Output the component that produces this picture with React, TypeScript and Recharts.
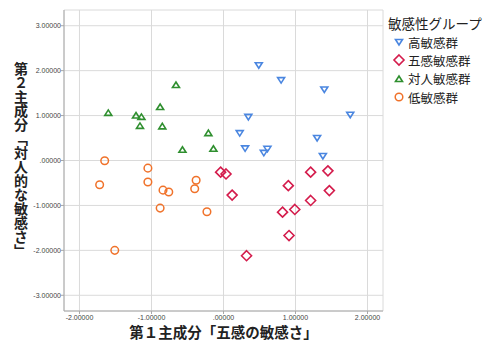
import React from 'react';
import { ScatterChart, Scatter, XAxis, YAxis, CartesianGrid, Label } from 'recharts';

// group names
const groupNames = ['高敏感群', '五感敏感群', '対人敏感群', '低敏感群'];

// 高敏感群
const highX = [0.49, 0.8, 1.4, 1.76, 0.345, 0.225, 1.3, 0.3, 0.61, 0.56, 1.38];
const highY = [2.12, 1.79, 1.58, 1.02, 0.97, 0.61, 0.5, 0.27, 0.26, 0.17, 0.1];

// 五感敏感群
const senseX = [-0.04, 0.035, 0.12, 0.32, 0.9, 0.82, 0.99, 0.91, 1.21, 1.45, 1.21, 1.47];
const senseY = [-0.26, -0.3, -0.77, -2.12, -0.56, -1.15, -1.09, -1.67, -0.26, -0.23, -0.89, -0.67];

// 対人敏感群
const socialX = [-1.6, -1.215, -1.14, -1.16, -0.88, -0.85, -0.66, -0.57, -0.21, -0.14];
const socialY = [1.06, 1.0, 0.97, 0.77, 1.19, 0.76, 1.68, 0.24, 0.61, 0.26];

// 低敏感群
const lowX = [-1.65, -1.72, -1.05, -1.05, -0.84, -0.76, -0.88, -0.38, -0.4, -0.23, -1.51];
const lowY = [-0.005, -0.54, -0.17, -0.48, -0.66, -0.7, -1.06, -0.44, -0.63, -1.14, -2.0];

const xTicks = [-2, -1, 0, 1, 2];
const yTicks = [-3, -2, -1, 0, 1, 2, 3];

const colors = ['#4a86e0', '#d41c4c', '#2f8f2f', '#f0722a'];

const zip = (xs: number[], ys: number[]) => xs.map((x, i) => ({ x, y: ys[i] }));

const fmt = (v: number) => (v === 0 ? '.00000' : v.toFixed(5));

const Marker = ({ kind, cx, cy }: { kind: number; cx: number; cy: number }) => {
  const c = colors[kind];
  if (kind === 0) {
    return <path d={`M${cx - 3.5},${cy - 2.5} L${cx + 3.5},${cy - 2.5} L${cx},${cy + 3} Z`} fill="none" stroke={c} strokeWidth={1.6} />;
  }
  if (kind === 1) {
    return <path d={`M${cx},${cy - 5} L${cx + 5},${cy} L${cx},${cy + 5} L${cx - 5},${cy} Z`} fill="none" stroke={c} strokeWidth={1.6} />;
  }
  if (kind === 2) {
    return <path d={`M${cx - 3.5},${cy + 2.5} L${cx + 3.5},${cy + 2.5} L${cx},${cy - 3} Z`} fill="none" stroke={c} strokeWidth={1.6} />;
  }
  return <circle cx={cx} cy={cy} r={3.8} fill="none" stroke={c} strokeWidth={1.5} />;
};

const jp = '"Noto Sans CJK JP", "Noto Sans", sans-serif';

export default function App() {
  const series = [zip(highX, highY), zip(senseX, senseY), zip(socialX, socialY), zip(lowX, lowY)];

  return (
    <div style={{ position: 'absolute', left: 0, top: 0, width: 483, height: 342, background: '#fff' }}>
      <ScatterChart width={483} height={342} margin={{ top: 10, right: 100, left: 0, bottom: 0 }}>
        <CartesianGrid stroke="#dadada" strokeWidth={1} />
        <XAxis
          type="number"
          dataKey="x"
          domain={[-2.215, 2.215]}
          ticks={xTicks}
          tickFormatter={fmt}
          height={31}
          tickSize={3}
          tickMargin={1}
          stroke="#a8a8a8"
          tick={{ fontSize: 7, fill: '#444', fontFamily: '"Liberation Sans", Arial, sans-serif' }}
        >
          <Label
            position="insideBottom"
            offset={4}
            value="第１主成分「五感の敏感さ」"
            style={{ fontSize: 14.5, fontWeight: 700, fill: '#222', fontFamily: jp }}
          />
        </XAxis>
        <YAxis
          type="number"
          dataKey="y"
          domain={[-3.35, 3.35]}
          ticks={yTicks}
          tickFormatter={fmt}
          width={64}
          tickSize={3}
          tickMargin={0}
          stroke="#a8a8a8"
          tick={{ fontSize: 7, fill: '#444', fontFamily: '"Liberation Sans", Arial, sans-serif' }}
        >
          <Label
            content={() => (
              <text
                x={21}
                y={160}
                textAnchor="middle"
                style={{ writingMode: 'vertical-rl', fontSize: 14, fontWeight: 700, fill: '#222', fontFamily: jp }}
              >
                第２主成分「対人的な敏感さ」
              </text>
            )}
          />
        </YAxis>
        {series.map((d, k) => (
          <Scatter
            key={groupNames[k]}
            name={groupNames[k]}
            data={d}
            isAnimationActive={false}
            shape={(p: any) => <Marker kind={k} cx={p.cx} cy={p.cy} />}
          />
        ))}
      </ScatterChart>
      <div style={{ position: 'absolute', left: 388, top: 13, fontFamily: jp, color: '#222' }}>
        <div style={{ fontSize: 13.5, lineHeight: '20px', whiteSpace: 'nowrap' }}>敏感性グループ</div>
        {groupNames.map((g, k) => (
          <div key={g} style={{ display: 'flex', alignItems: 'center', height: 18.3, fontSize: 12.5, whiteSpace: 'nowrap' }}>
            <svg width={18} height={14} style={{ marginLeft: 2 }}>
              <Marker kind={k} cx={9} cy={7} />
            </svg>
            <span>{g}</span>
          </div>
        ))}
      </div>
    </div>
  );
}
